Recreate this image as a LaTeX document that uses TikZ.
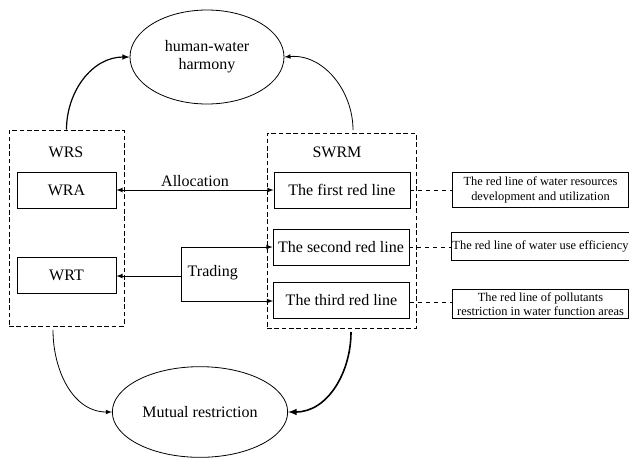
\documentclass[tikz,border=0pt]{standalone}
\usepackage{fontspec}
\setmainfont{Liberation Serif}
\usetikzlibrary{shapes.geometric}

\tikzset{
  mainfont/.style={font=\fontsize{12}{13.5}\selectfont},
  box/.style={draw, line width=0.6pt, minimum width=74.25pt, minimum height=27pt, inner sep=1pt, mainfont},
  redbox/.style={box, minimum width=102pt},
  groupbox/.style={draw, dash pattern=on 3.5pt off 2pt, line width=0.6pt},
  notebox/.style={draw, line width=0.6pt, minimum width=132.5pt, inner sep=1pt, align=center, font=\fontsize{9.3}{10.8}\selectfont},
  goal/.style={draw, ellipse, line width=0.6pt, align=center, mainfont},
  link/.style={line width=0.6pt},
}

\begin{document}
\begin{tikzpicture}[x=0.75pt, y=-0.75pt]
    \useasboundingbox (0,0) rectangle (629,458);

    % the two goals
    \node[goal, minimum width=115.5pt, minimum height=70.5pt] (harmony) at (207,57) {human-water\\harmony};
    \node[goal, minimum width=108pt, minimum height=68pt] (restrict) at (200,412) {Mutual restriction};

    % left group
    \node[groupbox, minimum width=86.25pt, minimum height=147pt] (wrs) at (66.5,228) {};
    \node[mainfont] (wrstitle) at (66,152) {WRS};
    \node[box] (wra) at (66.5,190) {WRA};
    \node[box] (wrt) at (66.5,275.5) {WRT};

    % right group
    \node[groupbox, minimum width=111.75pt, minimum height=146.25pt] (swrm) at (341.5,230.5) {};
    \node[mainfont] (swrmtitle) at (337,152) {SWRM};
    \node[redbox] (red1) at (342,190) {The first red line};
    \node[redbox] (red2) at (341,247) {The second red line};
    \node[redbox] (red3) at (341.5,300.5) {The third red line};

    % notes
    \node[notebox, minimum height=26.25pt] (note1) at (540.5,190) {The red line of water resources\\development and utilization};
    \node[notebox, minimum height=21.5pt] (note2) at (540.5,246.5) {The red line of water use efficiency};
    \node[notebox, minimum height=21.5pt] (note3) at (540.5,304) {The red line of pollutants\\restriction in water function areas};

    \draw[link, dashed] (red1.east) -- (red1.east -| note1.west);
    \draw[link, dashed] (red2.east) -- (red2.east -| note2.west);
    \draw[link, dashed] (red3.east |- 0,302) -- (note3.west |- 0,302);

    % allocation
    \draw[link, latex-latex] (wra.east) -- (red1.west) node[midway, above=-1pt, mainfont] {Allocation};

    % trading
    \coordinate (split) at (181,276);
    \draw[link, -latex] (split) -- (wrt.east |- split);
    \draw[link, -latex] (split) |- (red2.west);
    \draw[link, -latex] (split) |- (red3.west |- 0,301);
    \node[mainfont, right] (trading) at (183,273) {Trading};

    % curved arrows
    \coordinate (swrmtop) at (353,130);
    \coordinate (wrsbot) at (53,330);
    \coordinate (swrmbot) at (351,332);
    \draw[line width=0.9pt, -latex] (wrs.north) to[out=90, in=180] (harmony.west);
    \draw[link, -latex] (swrmtop) to[out=90, in=5] (harmony.east);
    \draw[link, -latex] (wrsbot) to[out=-90, in=180] (restrict.west);
    \draw[line width=1.2pt, -latex] (swrmbot) to[out=-90, in=0] (restrict.east);

\end{tikzpicture}
\end{document}
